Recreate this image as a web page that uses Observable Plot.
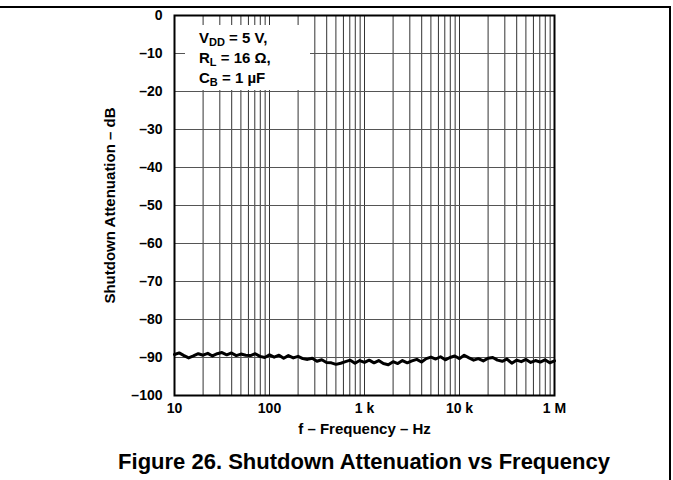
<!DOCTYPE html>
<html>
<head>
<meta charset="utf-8">
<script src="https://cdn.jsdelivr.net/npm/d3@7"></script>
<script src="https://cdn.jsdelivr.net/npm/@observablehq/plot@0.6"></script>
<style>
  html, body { margin: 0; padding: 0; background: #fff; }
  body { width: 673px; height: 480px; position: relative; overflow: hidden; font-family: "Liberation Sans", Arial, sans-serif; }
  #pageframe { position: absolute; top: 6px; left: 0; width: 669px; height: 480px; border-top: 2px solid #000; border-right: 2px solid #000; }
  #chart { position: absolute; top: 0; left: 0; }
  #caption { position: absolute; top: 449px; left: 0; width: 673px; padding-left: 55px; box-sizing: border-box; text-align: center; font-weight: bold; font-size: 22px; line-height: 26px; color: #000; white-space: nowrap; }
</style>
</head>
<body>
<div id="pageframe"></div>
<div id="chart"></div>
<div id="caption">Figure 26. Shutdown Attenuation vs Frequency</div>
<script>
// ---- data ----
const freqHz = [
  10, 11.2, 12.6, 14.1, 15.8, 17.8, 20, 22.4, 25.1, 28.2, 31.6, 35.5, 39.8, 44.7, 50.1, 56.2, 63.1, 70.8, 79.4, 89.1,
  100, 112, 126, 141, 158, 178, 200, 224, 251, 282, 316, 355, 398, 447, 501, 562, 631, 708, 794, 891,
  1000, 1120, 1260, 1410, 1580, 1780, 2000, 2240, 2510, 2820, 3160, 3550, 3980, 4470, 5010, 5620, 6310, 7080, 7940, 8910,
  10000, 11200, 12600, 14100, 15800, 17800, 20000, 22400, 25100, 28200, 31600, 35500, 39800, 44700, 50100, 56200, 63100, 70800, 79400, 89100,
  100000
];
const attenuationDb = [
  -89.2, -88.8, -89.5, -90.1, -89.6, -89.0, -89.4, -88.9, -89.6, -89.0, -88.7, -89.3, -88.8, -89.5, -89.1, -89.4, -89.5, -89.0, -89.7, -90.0,
  -89.3, -89.9, -89.4, -90.2, -89.5, -90.1, -89.7, -90.3, -90.5, -90.2, -91.0, -90.6, -91.3, -91.4, -91.8, -91.5, -91.1, -90.7, -91.5, -90.8,
  -91.3, -90.7, -91.4, -90.8, -91.6, -91.9, -91.1, -91.6, -90.8, -91.4, -90.9, -90.5, -91.2, -90.3, -89.9, -90.4, -89.8, -90.6, -90.0, -89.6,
  -90.3, -89.4, -90.1, -90.7, -90.3, -90.9, -90.2, -90.0, -90.7, -91.0, -90.4, -91.5, -90.7, -91.1, -90.5, -91.3, -90.8, -91.2, -90.6, -91.4,
  -90.9
];
const xTickValues = [10, 100, 1000, 10000, 100000];
const xTickLabels = ["10", "100", "1 k", "10 k", "1 M"];
const yTickValues = [0, -10, -20, -30, -40, -50, -60, -70, -80, -90, -100];
const yTickLabels = ["0", "–10", "–20", "–30", "–40", "–50", "–60", "–70", "–80", "–90", "–100"];
const xGridValues = [];
for (const dec of [10, 100, 1000, 10000]) for (let m = 1; m <= 9; m++) xGridValues.push(dec * m);
xGridValues.push(100000);
const xLabel = "f – Frequency – Hz";
const yLabel = "Shutdown Attenuation – dB";
const legendLines = [
  {main: "V", sub: "DD", rest: " = 5 V,"},
  {main: "R", sub: "L", rest: " = 16 Ω,"},
  {main: "C", sub: "B", rest: " = 1 µF"}
];

const data = freqHz.map((f, i) => ({f, db: attenuationDb[i]}));

const FONT = "'Liberation Sans', Arial, Helvetica, sans-serif";
const ML = 174, MT = 15;

function legendMark() {
  const svgNS = "http://www.w3.org/2000/svg";
  const g = document.createElementNS(svgNS, "g");
  g.setAttribute("text-anchor", "start");
  const rect = document.createElementNS(svgNS, "rect");
  rect.setAttribute("x", ML + 11);
  rect.setAttribute("y", MT + 10);
  rect.setAttribute("width", 125);
  rect.setAttribute("height", 65);
  rect.setAttribute("fill", "white");
  g.appendChild(rect);
  legendLines.forEach((ln, i) => {
    const t = document.createElementNS(svgNS, "text");
    t.setAttribute("x", ML + 25);
    t.setAttribute("y", MT + 28 + i * 20);
    t.setAttribute("text-anchor", "start");
    t.setAttribute("font-size", "15px");
    t.setAttribute("font-weight", "bold");
    t.setAttribute("font-family", FONT);
    t.setAttribute("fill", "black");
    const a = document.createElementNS(svgNS, "tspan");
    a.textContent = ln.main;
    const b = document.createElementNS(svgNS, "tspan");
    b.textContent = ln.sub;
    b.setAttribute("font-size", "11px");
    b.setAttribute("dy", "3");
    const c = document.createElementNS(svgNS, "tspan");
    c.textContent = ln.rest;
    c.setAttribute("dy", "-3");
    t.appendChild(a); t.appendChild(b); t.appendChild(c);
    g.appendChild(t);
  });
  return g;
}

const chart = Plot.plot({
  width: 673,
  height: 445,
  marginLeft: ML,
  marginRight: 119,
  marginTop: MT,
  marginBottom: 50,
  style: {fontFamily: FONT, fontWeight: "bold", fontSize: "14px", background: "transparent", color: "black"},
  x: {type: "log", domain: [10, 100000]},
  y: {domain: [-100, 0]},
  marks: [
    Plot.ruleX(xGridValues, {stroke: "#333", strokeWidth: 1}),
    Plot.ruleY(yTickValues, {stroke: "#555", strokeWidth: 1}),
    legendMark,
    Plot.line(data, {x: "f", y: "db", stroke: "black", strokeWidth: 3, strokeLinejoin: "round"}),
    Plot.frame({stroke: "black", strokeWidth: 2}),
    Plot.axisX(xTickValues, {tickSize: 0, tickPadding: 8, label: null, fontSize: 14, fontWeight: "bold",
      tickFormat: (d) => xTickLabels[xTickValues.indexOf(d)]}),
    Plot.axisY(yTickValues, {tickSize: 0, tickPadding: 12, label: null, fontSize: 14, fontWeight: "bold",
      tickFormat: (d) => yTickLabels[yTickValues.indexOf(d)]}),
    Plot.text([xLabel], {frameAnchor: "bottom", dy: 38, fontSize: 15, fontWeight: "bold", fill: "black", textAnchor: "middle"}),
    Plot.text([yLabel], {frameAnchor: "left", dx: -64, rotate: -90, fontSize: 15, fontWeight: "bold", fill: "black", textAnchor: "middle"})
  ]
});
document.getElementById("chart").appendChild(chart);
</script>
</body>
</html>
